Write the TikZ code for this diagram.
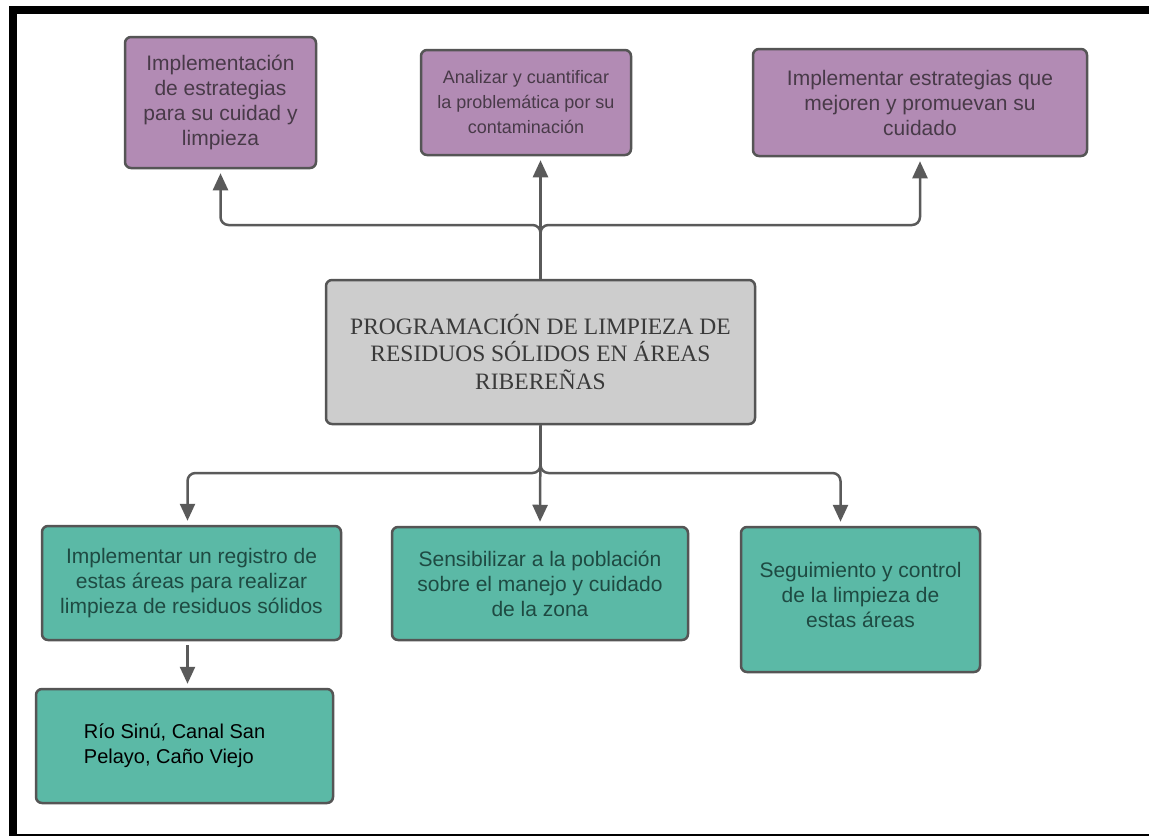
\documentclass[tikz,border=0pt]{standalone}
\usepackage{fontspec}
\setmainfont{Liberation Sans}
\newfontfamily\serifc{Liberation Serif}
\usetikzlibrary{arrows.meta,calc}
\definecolor{purfill}{RGB}{178,139,180}
\definecolor{purtext}{RGB}{72,58,72}
\definecolor{grnfill}{RGB}{91,185,166}
\definecolor{grntext}{RGB}{30,74,66}
\definecolor{grayfill}{RGB}{205,205,205}
\definecolor{graytext}{RGB}{58,58,58}
\definecolor{edgec}{RGB}{85,85,85}
\definecolor{arrc}{RGB}{90,90,90}
\tikzset{
  box/.style={draw=edgec, line width=2.5pt, rounded corners=6pt, inner sep=0pt, align=center, font=\fontsize{21}{25}\selectfont},
  pbox/.style={box, fill=purfill, text=purtext},
  gbox/.style={box, fill=grnfill, text=grntext},
  cbox/.style={box, fill=grayfill, text=graytext, font=\serifc\fontsize{23.5}{27.5}\selectfont},
  conn/.style={draw=arrc, line width=2.5pt, rounded corners=8pt},
  arr/.style={conn, -{Triangle[length=17pt,width=15pt]}, shorten >=4pt}
}
\begin{document}
\begin{tikzpicture}[x=1pt,y=-1pt]
\useasboundingbox (0,0) rectangle (1149,836);
\fill[white] (0,0) rectangle (1149,836);
% frame
\fill[black] (9,6) rectangle (1149,14);
\fill[black] (9,6) rectangle (17,836);
\fill[black] (9,833.5) rectangle (1149,836);
% top boxes
\node[pbox, minimum width=191pt, minimum height=131pt] (P1) at (220.5,102.5) {Implementación\\de estrategias\\para su cuidad y\\limpieza};
\node[pbox, minimum width=210pt, minimum height=105pt, font=\fontsize{18}{25}\selectfont] (P2) at (526,102.5) {Analizar y cuantificar\\la problemática por su\\contaminación};
\node[pbox, minimum width=334pt, minimum height=107pt] (P3) at (920,102.5) {Implementar estrategias que\\mejoren y promuevan su\\cuidado};
% center
\node[cbox, minimum width=429pt, minimum height=144pt] (C) at (540.5,352) {PROGRAMACIÓN DE LIMPIEZA DE\\RESIDUOS SÓLIDOS EN ÁREAS\\RIBEREÑAS};
% bottom boxes
\node[gbox, minimum width=299pt, minimum height=114pt] (G1) at (191.5,583) {Implementar un registro de\\estas áreas para realizar\\limpieza de residuos sólidos};
\node[gbox, minimum width=296pt, minimum height=113pt] (G2) at (540,583.5) {Sensibilizar a la población\\sobre el manejo y cuidado\\de la zona};
\node[gbox, minimum width=239pt, minimum height=145pt] (G3) at (860.5,599.5) {Seguimiento y control\\de la limpieza de\\estas áreas\\[-16pt]};
\node[gbox, minimum width=297pt, minimum height=114pt] (G4) at (184.5,746) {};
\node[anchor=west, align=left, inner sep=0pt, text=black, font=\fontsize{20}{25}\selectfont] (G4t) at ([xshift=49pt]G4.west) {Río Sinú, Canal San\\Pelayo, Caño Viejo};
% connectors
\coordinate (busT) at (540,225);
\coordinate (busB) at (540,473);
\coordinate (g1in) at ([xshift=-4pt]G1.north);
\coordinate (g3in) at ([xshift=-20pt]G3.north);
\draw[arr] (C.north) -- (C.north |- P2.south);
\draw[arr] (C.north) |- (P1.south |- busT) -- (P1.south);
\draw[arr] (C.north) |- (P3.south |- busT) -- (P3.south);
\draw[arr] (C.south) -- (G2.north);
\draw[arr] (C.south) |- (g1in |- busB) -- (g1in);
\draw[arr] (C.south) |- (g3in |- busB) -- (g3in);
\draw[arr, shorten <=4pt] (G1.south -| g1in) -- (G4.north -| g1in);
\end{tikzpicture}
\end{document}
